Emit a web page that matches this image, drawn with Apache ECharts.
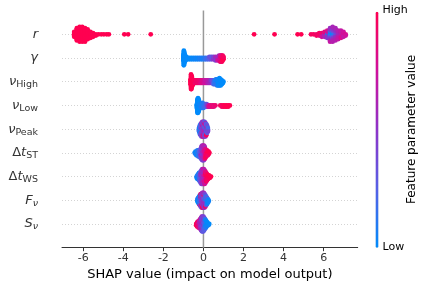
<!DOCTYPE html>
<html><head><meta charset="utf-8">
<script src="https://cdn.jsdelivr.net/npm/echarts@6/dist/echarts.min.js"></script>
<style>html,body{margin:0;padding:0;background:#fff}#c{width:428px;height:291px}</style>
</head><body><div id="c"></div>
<script>
// ---- data: feature rows (top to bottom) ----
const featureLabels = ['{m|r}', '{m|γ}', '{m|ν}{s|High}', '{m|ν}{s|Low}', '{m|ν}{s|Peak}',
  '{u|Δ}{m|t}{s|ST}', '{u|Δ}{m|t}{s|WS}', '{m|F}{si|ν}', '{m|S}{si|ν}'];
const xTicks = [-6, -4, -2, 0, 2, 4, 6];
const colorbarLabels = ['High', 'Low'];
const colorbarTitle = 'Feature parameter value';
const xTitle = 'SHAP value (impact on model output)';

// each entry: [SHAP value, [feature values (0 = low, 1 = high) of the samples at that value]]
const shapR = [
  [-6.45, [1,1,1,1,1]],
  [-6.32, [1,1,1,1,1,1,1,1,1,1,1]],
  [-6.18, [1,1,1,1,1,1,1,1,1,1,1,1,1]],
  [-6.05, [1,1,1,1,1,1,1,1,1,1,1,1,1]],
  [-5.91, [1,1,1,1,1,1,1,1,1,1,1,1]],
  [-5.78, [1,1,1,1,1,1,1,1,1]],
  [-5.64, [1,1,1,1,1,1]],
  [-5.51, [1,1,1,1]],
  [-5.37, [1,1]],
  [-5.24, [1]], [-5.10, [1]], [-4.97, [1]], [-4.83, [1]], [-4.72, [1]],
  [-3.95, [1]], [-3.76, [1]], [-2.63, [1]],
  [2.53, [1]], [3.55, [1]], [4.70, [1]], [4.88, [1]],
  [5.37, [0.95]], [5.50, [0.95]], [5.64, [0.9,0.95]], [5.78, [0.85,0.9,0.95]],
  [5.91, [0.8,0.85,0.9,0.75]],
  [6.05, [0.4,0.7,0.8,0.6,0.85]],
  [6.18, [0.1,0.3,0.05,0.6,0.7,0.5,0.8]],
  [6.32, [0.0,0.05,0.1,0.2,0.0,0.4,0.3,0.5,0.45,0.6,0.55,0.7]],
  [6.45, [0.05,0.1,0.0,0.2,0.15,0.4,0.35,0.5,0.45,0.6,0.5,0.65,0.6]],
  [6.59, [0.3,0.4,0.2,0.5,0.45,0.55,0.5,0.6,0.55,0.65,0.6]],
  [6.72, [0.5,0.6,0.55,0.65,0.6,0.7,0.65,0.7]],
  [6.86, [0.6,0.7,0.65,0.75,0.7,0.8,0.7]],
  [6.99, [0.7,0.75,0.8,0.7,0.75]],
  [7.10, [0.8,0.75]]
];
const shapGamma = [
  [-1.00, [0,0,0,0,0]],
  [-0.98, [0,0,0,0,0,0,0,0,0,0,0,0,0]],
  [-0.96, [0,0,0,0,0,0,0,0,0,0,0]],
  [-0.94, [0.02,0,0.02,0,0.02,0,0]],
  [-0.92, [0,0.02,0,0.02,0]],
  [-0.90, [0.02,0,0.02,0]],
  [-0.88, [0,0.02,0]],
  [-0.85, [0.02,0,0]],
  [-0.80, [0,0.02]], [-0.70, [0.02,0]], [-0.60, [0,0.03]], [-0.50, [0.03,0.02]],
  [-0.40, [0.02,0.05]], [-0.30, [0.05,0.03]], [-0.20, [0.05,0.08]], [-0.10, [0.08,0.06]],
  [0.00, [0.1,0.08]], [0.10, [0.12,0.15]], [0.20, [0.18,0.2]],
  [0.30, [0.3,0.25,0.35]],
  [0.40, [0.4,0.35,0.3]],
  [0.50, [0.45,0.5,0.4]],
  [0.60, [0.5,0.55,0.6,0.45]],
  [0.70, [0.6,0.65,0.55,0.7]],
  [0.78, [0.7,0.75,0.65,0.8,0.6]],
  [0.84, [0.8,0.7,0.85,0.75,0.8,0.9]],
  [0.88, [0.85,0.8,0.9,0.75,0.85,0.9]],
  [0.92, [0.9,0.85,0.95,0.9,0.8,0.95]],
  [0.96, [0.95,1,0.9,1,0.95]],
  [1.00, [1,1,0.95]]
];
const shapNuHigh = [
  [-0.64, [1,1,1,1,1]],
  [-0.62, [1,1,1,1,1,1,1,1,1,1,1,1,1]],
  [-0.60, [1,1,1,1,1,1,1,1,1,1,1,1]],
  [-0.58, [1,1,1,1,1,1,1,1,1]],
  [-0.55, [1,1,1,1,1,1]],
  [-0.52, [1,0.95,1,1]],
  [-0.48, [0.95,1,1]], [-0.44, [1,0.95,0.95]], [-0.40, [0.95,0.9,1]],
  [-0.34, [0.9,0.95,0.9]], [-0.28, [0.9,0.9,0.95]], [-0.22, [0.85,0.9,0.9]],
  [-0.16, [0.85,0.85,0.9]], [-0.10, [0.85,0.8,0.85]], [-0.04, [0.8,0.85,0.8]],
  [0.02, [0.8,0.75,0.8]], [0.08, [0.75,0.75,0.7]], [0.14, [0.7,0.75,0.7]],
  [0.20, [0.7,0.65,0.7]], [0.26, [0.65,0.6,0.65]], [0.32, [0.6,0.55,0.6]],
  [0.38, [0.5,0.55,0.45]], [0.44, [0.4,0.45,0.35]],
  [0.50, [0.3,0.2,0.35,0.25]],
  [0.56, [0.15,0.2,0.1,0.15]],
  [0.62, [0.1,0.05,0.1,0.15,0.1]],
  [0.68, [0.05,0.05,0,0.1,0.05,0.1]],
  [0.74, [0.05,0,0.05,0,0.05,0]],
  [0.80, [0,0,0.05,0,0,0.05,0]],
  [0.86, [0,0,0,0.05,0,0]],
  [0.92, [0,0,0,0]],
  [0.97, [0,0]],
  [1.00, [0]]
];
const shapNuLow = [
  [-0.33, [0,0,0,0]],
  [-0.30, [0,0,0,0,0,0,0,0,0,0,0,0]],
  [-0.27, [0.02,0,0.02,0,0,0.02,0,0,0.02,0,0,0,0]],
  [-0.24, [0,0.05,0,0.02,0,0.05,0,0,0.02,0,0]],
  [-0.21, [0.05,0,0.02,0,0.05,0,0]],
  [-0.18, [0.05,0,0.05,0]],
  [-0.14, [0.05,0.05,0.02]],
  [-0.10, [0.05,0.1,0.05,0.08]],
  [-0.05, [0.1,0.08,0.1,0.05,0.1]],
  [0.00, [0.1,0.15,0.1,0.12]],
  [0.05, [0.15,0.2,0.12]],
  [0.10, [0.2,0.2,0.15]],
  [0.16, [0.3,0.25,0.35]],
  [0.22, [0.5,0.6]],
  [0.28, [0.75,0.8]],
  [0.36, [0.85,0.8]],
  [0.44, [0.85,0.9]],
  [0.52, [0.9,0.85]],
  [0.60, [0.9]],
  [0.84, [0.95]],
  [0.92, [0.95,0.95]],
  [1.00, [1,0.95]],
  [1.08, [1,1]],
  [1.16, [1,1]],
  [1.24, [1,1]],
  [1.32, [1]]
];
const shapNuPeak = [
  [-0.22, [0.1,0.2,0.05,0.15]],
  [-0.18, [0.1,0.3,0.0,0.2,0.15,0.1,0.25,0.05]],
  [-0.14, [0.2,0.1,0.4,0.0,0.3,0.15,0.25,0.35,0.1,0.45]],
  [-0.10, [0.3,0.2,0.5,0.1,0.4,0.6,0.2,0.35,0.45,0.25,0.55,0.3]],
  [-0.06, [0.4,0.3,0.5,0.6,0.2,0.45,0.7,0.35,0.55,0.8,0.3,0.5,0.4]],
  [-0.02, [0.5,0.4,0.6,0.3,0.55,0.45,0.65,0.35,0.7,0.5,0.25,0.9,0.6]],
  [0.02, [0.5,0.6,0.4,0.55,0.3,0.65,0.45,0.7,0.35,0.9,0.5,0.6,0.4]],
  [0.06, [0.6,0.5,0.4,0.7,0.3,0.55,0.2,0.45,0.65,0.35,0.95,0.5,0.3]],
  [0.10, [0.4,0.6,0.3,0.5,0.2,0.7,0.45,0.25,0.9,0.35,0.55,0.4]],
  [0.14, [0.3,0.5,0.2,0.4,0.6,0.15,0.35,0.45,0.25,0.95]],
  [0.18, [0.4,0.2,0.5,0.3,0.8,0.25,0.35]],
  [0.22, [0.3,0.5,0.2,0.4]]
];
const shapDtST = [
  [-0.44, [0.05]],
  [-0.40, [0.0,0.1,0.05]],
  [-0.35, [0.05,0.1,0.0,0.05]],
  [-0.30, [0.1,0.05,0.15,0.0,0.1]],
  [-0.25, [0.1,0.2,0.05,0.15,0.1,0.2]],
  [-0.20, [0.2,0.1,0.3,0.15,0.25,0.1]],
  [-0.15, [0.3,0.4,0.2,0.5,0.35,0.45,0.3,0.25]],
  [-0.10, [0.4,0.5,0.3,0.6,0.45,0.55,0.35,0.5,0.4,0.3,0.45]],
  [-0.06, [0.5,0.45,0.55,0.4,0.6,0.5,0.35,0.65,0.45,0.55,0.5,0.4,0.6]],
  [-0.02, [0.55,0.5,0.6,0.45,0.65,0.5,0.55,0.4,0.6,0.5,0.7,0.45,0.55]],
  [0.02, [0.6,0.55,0.65,0.5,0.7,0.6,0.55,0.75,0.5,0.6,0.65,0.45,0.7]],
  [0.06, [0.7,0.65,0.8,0.6,0.75,0.7,0.85,0.55,0.65,0.8,0.6]],
  [0.10, [0.8,0.85,0.75,0.9,0.7,0.8,0.85,0.95]],
  [0.14, [0.9,0.85,0.95,0.9,0.8,1]],
  [0.18, [0.95,0.9,1,0.95,0.9]],
  [0.22, [1,0.95,1,0.9]],
  [0.26, [1,0.95,1]],
  [0.30, [1]]
];
const shapDtWS = [
  [-0.34, [0.05,0.1]],
  [-0.30, [0.0,0.1,0.05,0.0]],
  [-0.26, [0.1,0.05,0.15,0.0,0.05]],
  [-0.22, [0.15,0.1,0.2,0.05,0.3,0.1,0.05]],
  [-0.18, [0.2,0.3,0.1,0.4,0.25,0.35,0.15,0.2]],
  [-0.14, [0.4,0.3,0.5,0.2,0.45,0.35,0.6,0.3,0.25,0.4]],
  [-0.10, [0.5,0.4,0.6,0.35,0.55,0.45,0.65,0.3,0.5,0.6,0.4,0.35]],
  [-0.06, [0.5,0.55,0.45,0.6,0.4,0.65,0.5,0.35,0.7,0.55,0.45,0.6,0.5]],
  [-0.02, [0.6,0.55,0.65,0.5,0.7,0.6,0.45,0.75,0.55,0.65,0.6,0.5,0.7]],
  [0.02, [0.6,0.55,0.65,0.5,0.7,0.6,0.45,0.75,0.55,0.65,0.6,0.5,0.7]],
  [0.06, [0.7,0.65,0.75,0.6,0.8,0.7,0.55,0.85,0.65,0.75,0.6,0.8]],
  [0.10, [0.8,0.75,0.85,0.7,0.9,0.8,0.95,0.75,0.85,0.7]],
  [0.14, [0.9,0.85,0.95,0.8,1,0.9,0.85,0.95]],
  [0.18, [0.95,1,0.9,1,0.95,0.9]],
  [0.23, [1,0.95,1,0.95]],
  [0.28, [1,0.95,1]],
  [0.33, [1,1]],
  [0.38, [1]]
];
const shapF = [
  [-0.30, [0.05,0.0,0.1]],
  [-0.26, [0.0,0.1,0.05,0.0,0.05]],
  [-0.22, [0.1,0.0,0.15,0.05,0.1,0.0,0.05]],
  [-0.18, [0.1,0.2,0.05,0.3,0.15,0.1,0.25,0.9,0.05]],
  [-0.14, [0.3,0.2,0.4,0.1,0.5,0.25,0.9,0.35,0.15,0.45,1]],
  [-0.10, [0.4,0.5,0.3,0.6,0.45,0.2,0.55,0.9,0.35,1,0.5,0.25]],
  [-0.06, [0.5,0.45,0.6,0.4,0.55,0.35,0.65,0.5,0.3,0.7,0.45,0.95,0.6]],
  [-0.02, [0.5,0.6,0.45,0.55,0.4,0.65,0.5,0.35,0.6,0.9,0.45,1,0.5]],
  [0.02, [0.45,0.5,0.4,0.55,0.35,0.6,0.3,0.5,0.95,0.4,0.55,0.45,0.6]],
  [0.06, [0.4,0.5,0.3,0.55,0.35,0.6,0.25,0.45,0.9,0.5,0.4,0.55]],
  [0.10, [0.2,0.4,0.1,0.5,0.3,0.6,0.2,0.45,0.35,0.95]],
  [0.14, [0.1,0.3,0.05,0.4,0.2,0.5,0.15,0.35]],
  [0.18, [0.05,0.1,0.2,0.0,0.3,0.1]],
  [0.22, [0.0,0.05,0.1,0.0]],
  [0.26, [0.0,0.05]]
];
const shapS = [
  [-0.36, [1,0.95]],
  [-0.32, [0.95,1,0.9,1]],
  [-0.28, [0.9,0.85,0.95,1,0.9]],
  [-0.24, [0.8,0.85,0.75,0.9,0.95,0.85]],
  [-0.20, [0.7,0.75,0.65,0.8,0.6,0.85,0.7]],
  [-0.16, [0.6,0.65,0.55,0.7,0.5,0.6,0.75,0.65,0.8]],
  [-0.12, [0.55,0.5,0.6,0.45,0.65,0.5,0.4,0.7,0.55,0.6,0.5]],
  [-0.08, [0.5,0.45,0.55,0.4,0.6,0.5,0.35,0.65,0.45,0.55,0.5,0.4,0.6]],
  [-0.04, [0.45,0.4,0.5,0.35,0.55,0.3,0.45,0.6,0.4,0.5,0.35,0.25,0.45]],
  [0.00, [0.4,0.45,0.35,0.5,0.3,0.4,0.55,0.25,0.45,0.35,0.5,0.3,0.4]],
  [0.04, [0.3,0.35,0.25,0.4,0.2,0.3,0.45,0.15,0.35,0.25,0.4]],
  [0.08, [0.2,0.15,0.25,0.1,0.3,0.2,0.05,0.25,0.15]],
  [0.12, [0.1,0.05,0.15,0.0,0.2,0.1,0.05]],
  [0.16, [0.05,0.0,0.1,0.05,0.0]],
  [0.20, [0.0,0.05,0.0]],
  [0.25, [0.0,0.05]],
  [0.29, [0.0]]
];
const featureShaps = [shapR, shapGamma, shapNuHigh, shapNuLow, shapNuPeak, shapDtST, shapDtWS, shapF, shapS];

// ---- beeswarm layout (shap-style stacking within each value bin) ----
function swarm(groups, row) {
  const pts = [];
  let maxY = 0;
  groups.forEach(([x, fvs]) => {
    fvs.forEach((fv, layer) => {
      const y = Math.ceil(layer / 2) * ((layer % 2) * 2 - 1);
      if (y > maxY) maxY = y;
      pts.push([x, y, fv]);
    });
  });
  const s = 0.9 * 0.4 / (maxY + 1);
  return pts.map(p => [p[0], row + p[1] * s, p[2]]);
}
let points = [];
featureShaps.forEach((g, i) => { points = points.concat(swarm(g, i)); });

const FONT = 'DejaVu Sans';
const chart = echarts.init(document.getElementById('c'), null, {renderer: 'canvas'});
chart.setOption({
  animation: false,
  backgroundColor: '#fff',
  grid: {left: 62, right: 70.3, top: 10.6, bottom: 43.3},
  xAxis: {
    type: 'value', min: -7.06, max: 7.70,
    name: xTitle, nameLocation: 'middle', nameGap: 20,
    nameTextStyle: {fontFamily: FONT, fontSize: 13, color: '#000'},
    axisLine: {show: true, onZero: false, lineStyle: {color: '#333', width: 1}},
    axisTick: {show: true, length: 3.5, customValues: xTicks, lineStyle: {color: '#333', width: 1}},
    axisLabel: {customValues: xTicks, fontFamily: FONT, fontSize: 11, color: '#333', margin: 5},
    splitLine: {show: false}
  },
  yAxis: {
    type: 'value', min: -1, max: 9, interval: 1, inverse: true,
    axisLine: {show: false}, axisTick: {show: false},
    splitLine: {show: true, showMinLine: false, showMaxLine: false,
      lineStyle: {color: '#d4d4d4', width: 1, type: [1, 2]}},
    axisLabel: {
      margin: 24,
      formatter: v => (v >= 0 && v < featureLabels.length) ? featureLabels[v] : '',
      rich: {
        m: {fontFamily: FONT, fontStyle: 'italic', fontSize: 13, color: '#333', lineHeight: 16},
        u: {fontFamily: FONT, fontSize: 13, color: '#333', lineHeight: 16},
        s: {fontFamily: FONT, fontSize: 9.5, color: '#333', lineHeight: 10, padding: [6, 0, 0, 0]},
        si: {fontFamily: FONT, fontStyle: 'italic', fontSize: 9.5, color: '#333', lineHeight: 10, padding: [6, 0, 0, 0]}
      }
    }
  },
  visualMap: {
    type: 'continuous', min: 0, max: 1, dimension: 2, seriesIndex: 0,
    calculable: false, orient: 'vertical', padding: 0,
    itemWidth: 3, itemHeight: 236, left: 375.5, top: 11.7,
    inRange: {color: ['#008bfb', '#5660e6', '#8d33c9', '#d0109c', '#ff0051']}
  },
  graphic: [
    {type: 'text', left: 382.5, top: 5, style: {text: colorbarLabels[0], font: '11px "DejaVu Sans"', fill: '#000'}},
    {type: 'text', left: 382.5, top: 241.5, style: {text: colorbarLabels[1], font: '11px "DejaVu Sans"', fill: '#000'}},
    {type: 'text', x: 412, y: 129.5, rotation: Math.PI / 2,
      style: {text: colorbarTitle, font: '12px "DejaVu Sans"', fill: '#000', align: 'center', verticalAlign: 'middle'}}
  ],
  series: [
    {type: 'scatter', data: points, symbolSize: 4.8, z: 3,
      itemStyle: {opacity: 1}, silent: true},
    {type: 'line', data: [[0, -1], [0, 9]], symbol: 'none', z: 1, silent: true,
      lineStyle: {color: '#999', width: 1.5}}
  ]
});
</script></body></html>
